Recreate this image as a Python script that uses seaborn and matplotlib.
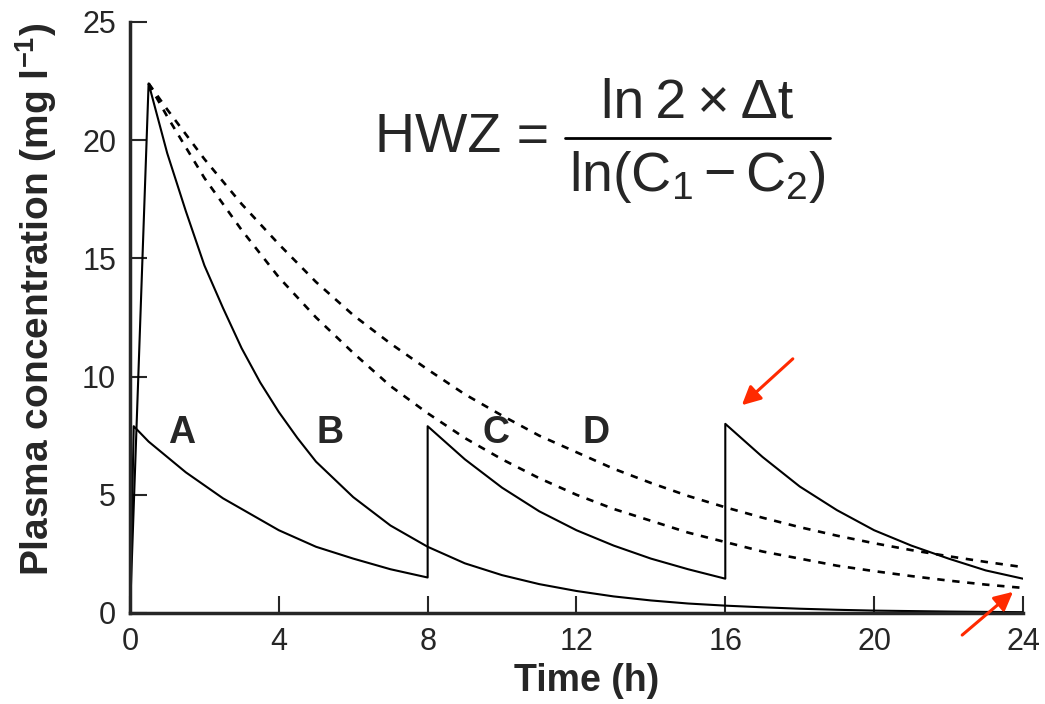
import seaborn as sns
import matplotlib.pyplot as plt

# repeated small dose (A): 8 h dosing interval, jumps at 8 h and 16 h
time_a = [0, 0.1, 0.5, 1, 1.5, 2, 2.5, 3, 4, 5, 6, 7, 8,
          8, 9, 10, 11, 12, 13, 14, 15, 16,
          16, 17, 18, 19, 20, 21, 22, 23, 24]
conc_a = [0, 7.9, 7.25, 6.6, 5.95, 5.4, 4.85, 4.4, 3.5, 2.8, 2.3, 1.85, 1.5,
          7.9, 6.5, 5.3, 4.3, 3.5, 2.85, 2.3, 1.85, 1.45,
          8.0, 6.6, 5.35, 4.35, 3.5, 2.85, 2.3, 1.8, 1.45]

# single large dose (B)
time_b = [0, 0.5, 1, 1.5, 2, 2.5, 3, 3.5, 4, 4.5, 5, 6, 7, 8, 9, 10,
          11, 12, 13, 14, 15, 16, 17, 18, 19, 20, 21, 22, 23, 24]
conc_b = [0, 22.4, 19.45, 17.0, 14.7, 12.9, 11.2, 9.75, 8.5, 7.4, 6.4, 4.9, 3.7, 2.8, 2.1, 1.6,
          1.22, 0.93, 0.7, 0.53, 0.4, 0.31, 0.24, 0.18, 0.135, 0.1, 0.08, 0.06, 0.045, 0.035]

# slower elimination (C, D), dashed
time_cd = [0.5, 1, 2, 3, 4, 5, 6, 7, 8, 9, 10, 11, 12, 13, 14, 15, 16,
           17, 18, 19, 20, 21, 22, 23, 24]
conc_c = [22.4, 21.0, 18.4, 16.2, 14.2, 12.5, 11.0, 9.6, 8.45, 7.4, 6.5, 5.7, 5.0, 4.4, 3.9, 3.4, 3.0,
          2.6, 2.3, 2.0, 1.77, 1.56, 1.37, 1.2, 1.06]
conc_d = [22.4, 21.3, 19.2, 17.3, 15.6, 14.0, 12.6, 11.4, 10.3, 9.25, 8.35, 7.5, 6.8, 6.1, 5.5, 4.95, 4.47,
          4.03, 3.63, 3.27, 2.95, 2.66, 2.4, 2.16, 1.94]

curve_labels = ['A', 'B', 'C', 'D']
label_x = [1.4, 5.37, 9.84, 12.53]
label_y = [7.6, 7.6, 7.6, 7.6]

x_ticks = [0, 4, 8, 12, 16, 20, 24]
y_ticks = [0, 5, 10, 15, 20, 25]

sns.set_style('ticks')
plt.rcParams['font.family'] = ['Liberation Sans', 'DejaVu Sans']
plt.rcParams['mathtext.fontset'] = 'custom'
plt.rcParams['mathtext.rm'] = 'Liberation Sans'
plt.rcParams['mathtext.it'] = 'Liberation Sans:italic'
plt.rcParams['mathtext.bf'] = 'Liberation Sans:bold'

fig = plt.figure(figsize=(10.45, 7.04), dpi=100)
ax = fig.add_axes([0.1244, 0.1293, 0.8545, 0.8395])

sns.lineplot(x=time_a, y=conc_a, sort=False, estimator=None, color='black', lw=1.5, ax=ax)
sns.lineplot(x=time_b, y=conc_b, sort=False, estimator=None, color='black', lw=1.5, ax=ax)
sns.lineplot(x=time_cd, y=conc_c, sort=False, estimator=None, color='black', lw=1.9,
             linestyle=(0, (2.8, 2.9)), ax=ax)
sns.lineplot(x=time_cd, y=conc_d, sort=False, estimator=None, color='black', lw=1.9,
             linestyle=(0, (2.8, 2.9)), ax=ax)

for lab, lx, ly in zip(curve_labels, label_x, label_y):
    ax.text(lx, ly, lab, fontsize=27, fontweight='bold', ha='center', va='center')

ax.set_xlim(0, 24)
ax.set_ylim(0, 25)
ax.set_xticks(x_ticks)
ax.set_yticks(y_ticks)
ax.tick_params(direction='in', length=12, width=1.5, labelsize=22, pad=10)
for s in ['left', 'bottom']:
    ax.spines[s].set_linewidth(2.5)
sns.despine(ax=ax)

ax.set_xlabel('Time (h)', fontsize=27, fontweight='bold')
ax.set_ylabel(r'Plasma concentration (mg l$^{\mathbf{-1}}$)', fontsize=28, fontweight='bold')
ax.xaxis.set_label_coords(0.511, -0.085)
ax.yaxis.set_label_coords(-0.08, 0.53)

# red arrows
red = '#ff2a00'
ax.annotate('', xy=(16.39, 8.71), xytext=(17.87, 10.83),
            arrowprops=dict(arrowstyle='-|>', color=red, lw=2.2, mutation_scale=28),
            annotation_clip=False)
ax.annotate('', xy=(23.79, 0.97), xytext=(22.31, -1.01),
            arrowprops=dict(arrowstyle='-|>', color=red, lw=2.2, mutation_scale=28),
            annotation_clip=False)

# half-life formula
fig.text(0.3589, 0.784, 'HWZ =', fontsize=40, ha='left', va='baseline')
fig.text(0.667, 0.8324, 'ln\u20092\u2009×\u2009Δt', fontsize=40, ha='center', va='baseline')
fig.add_artist(plt.Line2D([0.5407, 0.7943], [0.804, 0.804], color='black', lw=2,
                          transform=fig.transFigure))
fig.text(0.667, 0.728, r'ln($\mathregular{C_1 - C_2}$)', fontsize=40, ha='center', va='baseline')

plt.savefig('out.png', dpi=100)
